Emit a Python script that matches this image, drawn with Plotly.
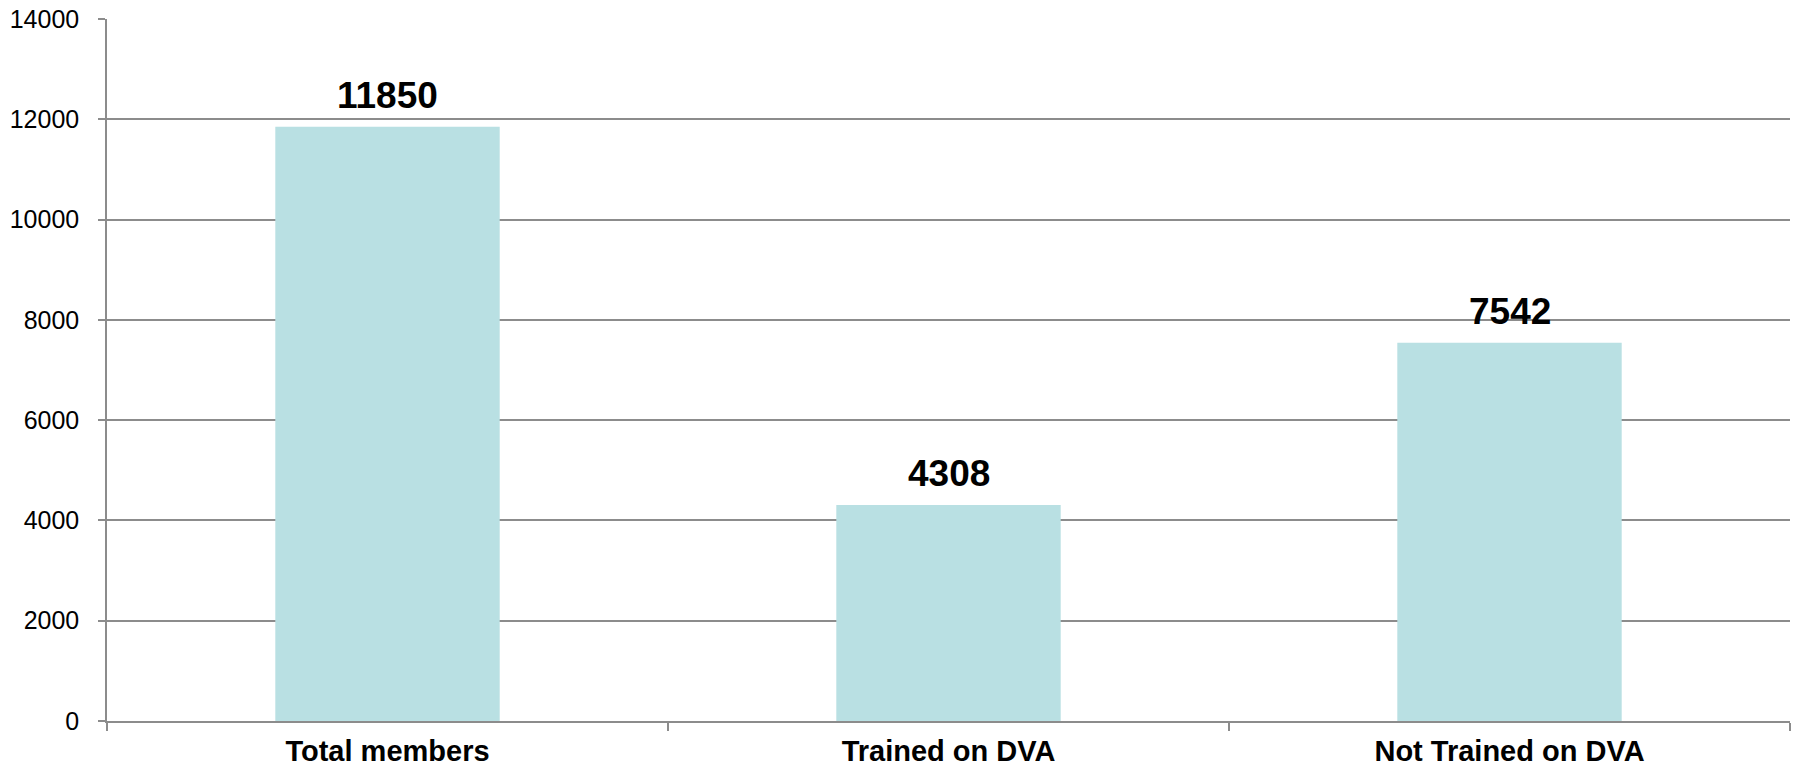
import plotly.graph_objects as go

categories = ["Total members", "Trained on DVA", "Not Trained on DVA"]
values = [11850, 4308, 7542]
y_ticks = [0, 2000, 4000, 6000, 8000, 10000, 12000, 14000]

axis_grey = "#8c8c8c"
bar_color = "#b9e0e3"
font_family = "Liberation Sans, Arial, sans-serif"

fig = go.Figure(
    go.Bar(
        x=categories,
        y=values,
        marker=dict(color=bar_color, line=dict(width=0)),
        width=0.4,
    )
)

for c, v in zip(categories, values):
    fig.add_annotation(
        x=c, y=v, text=str(v), showarrow=False,
        yanchor="bottom", yshift=9,
        font=dict(family=font_family, size=37, color="black", weight="bold"),
    )

fig.update_layout(
    width=1796,
    height=769,
    margin=dict(l=107, r=6, t=19, b=48, autoexpand=False),
    paper_bgcolor="white",
    plot_bgcolor="white",
    showlegend=False,
    font=dict(family=font_family, color="black"),
)

fig.update_xaxes(
    automargin=False,
    showline=True,
    linecolor=axis_grey,
    linewidth=1.5,
    ticks="outside",
    tickson="boundaries",
    ticklen=8,
    tickcolor=axis_grey,
    tickwidth=1.5,
    showgrid=False,
    tickfont=dict(family=font_family, size=29, color="black", weight="bold"),
    ticklabelstandoff=3,
)

fig.update_yaxes(
    automargin=False,
    range=[0, 14000],
    tickvals=y_ticks,
    ticktext=[str(t) for t in y_ticks],
    showline=True,
    linecolor=axis_grey,
    linewidth=1.5,
    ticks="outside",
    ticklen=7,
    tickcolor=axis_grey,
    tickwidth=1.5,
    showgrid=True,
    gridcolor=axis_grey,
    gridwidth=1.5,
    zeroline=False,
    tickfont=dict(family=font_family, size=25, color="black"),
    ticklabelstandoff=14,
)

fig.write_html("out.html")
